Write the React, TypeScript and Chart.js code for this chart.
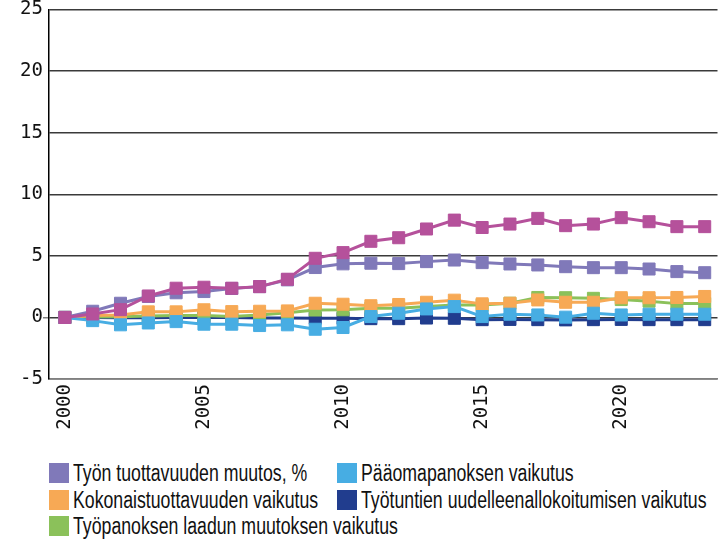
import React, { useEffect, useRef } from "react";
import { Chart, registerables } from "chart.js";

Chart.register(...registerables);

const years = [2000, 2001, 2002, 2003, 2004, 2005, 2006, 2007, 2008, 2009, 2010, 2011, 2012, 2013, 2014, 2015, 2016, 2017, 2018, 2019, 2020, 2021, 2022, 2023];

const xTicks = [2000, 2005, 2010, 2015, 2020];
const yTicks = [-5, 0, 5, 10, 15, 20, 25];

const legendLabels = [
  "Työn tuottavuuden muutos, %",
  "Pääomapanoksen vaikutus",
  "Kokonaistuottavuuden vaikutus",
  "Työtuntien uudelleenallokoitumisen vaikutus",
  "Työpanoksen laadun muutoksen vaikutus",
];

// magenta series (not shown in the legend)
const magentaSeries = [0, 0.28, 0.63, 1.74, 2.37, 2.45, 2.37, 2.5, 3.1, 4.8, 5.26, 6.18, 6.47, 7.18, 7.9, 7.3, 7.58, 8.04, 7.45, 7.58, 8.1, 7.77, 7.37, 7.37];
const tyonTuottavuus = [0, 0.5, 1.15, 1.7, 2.0, 2.1, 2.35, 2.5, 3.05, 4.05, 4.35, 4.4, 4.37, 4.53, 4.66, 4.45, 4.34, 4.26, 4.12, 4.04, 4.04, 3.93, 3.72, 3.63];
const paaomapanos = [0, -0.26, -0.6, -0.45, -0.34, -0.55, -0.55, -0.66, -0.6, -0.96, -0.82, 0.07, 0.34, 0.69, 0.88, 0.07, 0.26, 0.2, 0.02, 0.34, 0.2, 0.26, 0.26, 0.26];
const kokonaistuottavuus = [0, 0.15, 0.2, 0.45, 0.45, 0.62, 0.47, 0.5, 0.53, 1.15, 1.07, 0.95, 1.05, 1.23, 1.4, 1.1, 1.15, 1.42, 1.23, 1.23, 1.6, 1.6, 1.62, 1.7];
const tyopanoksenLaatu = [0, 0.03, 0.05, 0.12, 0.15, 0.15, 0.08, 0.2, 0.38, 0.6, 0.62, 0.74, 0.74, 0.88, 1.0, 1.0, 1.15, 1.62, 1.6, 1.55, 1.45, 1.32, 1.12, 1.12];
const tyotunnit = [0, 0, -0.02, -0.02, 0, 0, 0, -0.05, -0.05, -0.07, -0.07, -0.1, -0.1, -0.05, -0.07, -0.18, -0.16, -0.18, -0.2, -0.18, -0.16, -0.18, -0.18, -0.18];

const COLORS = {
  magenta: "#B5519B",
  purple: "#8079B9",
  orange: "#F7A955",
  lightBlue: "#47ADE3",
  darkBlue: "#213D8E",
  green: "#8BC15A",
};

const legendColors = [COLORS.purple, COLORS.lightBlue, COLORS.orange, COLORS.darkBlue, COLORS.green];

const toPoints = (vals: number[]) => vals.map((v, i) => ({ x: years[i], y: v }));

const ds = (label: string, vals: number[], color: string) => ({
  label,
  data: toPoints(vals),
  borderColor: color,
  backgroundColor: color,
  borderWidth: 3,
  pointStyle: "rect" as const,
  pointRadius: 8.5,
  pointBorderWidth: 1,
  pointBorderColor: color,
  pointBackgroundColor: color,
  tension: 0,
});

const tickFont = { family: "'DejaVu Sans Mono', monospace", size: 19, lineHeight: 1 };

export default function App() {
  const canvasRef = useRef<HTMLCanvasElement | null>(null);

  useEffect(() => {
    if (!canvasRef.current) return;
    const chart = new Chart(canvasRef.current, {
      type: "line",
      data: {
        datasets: [
          ds("", magentaSeries, COLORS.magenta),
          ds(legendLabels[0], tyonTuottavuus, COLORS.purple),
          ds(legendLabels[1], paaomapanos, COLORS.lightBlue),
          ds(legendLabels[2], kokonaistuottavuus, COLORS.orange),
          ds(legendLabels[4], tyopanoksenLaatu, COLORS.green),
          ds(legendLabels[3], tyotunnit, COLORS.darkBlue),
        ],
      },
      options: {
        animation: false,
        responsive: false,
        maintainAspectRatio: false,
        layout: { padding: { top: 9, right: 1, left: 0, bottom: 0 } },
        plugins: { legend: { display: false }, tooltip: { enabled: false } },
        scales: {
          x: {
            type: "linear",
            min: 1999.43,
            max: 2023.46,
            afterBuildTicks: (scale: any) => {
              scale.ticks = xTicks.map((v) => ({ value: v }));
            },
            afterFit: (scale: any) => {
              scale.height = 60;
            },
            grid: { display: false, drawTicks: false },
            border: { display: true, color: "#808080", width: 1.5 },
            ticks: {
              autoSkip: false,
              minRotation: 90,
              maxRotation: 90,
              padding: 5,
              color: "#111",
              font: tickFont,
              callback: (v: any) => String(v),
            },
          },
          y: {
            min: -5,
            max: 25,
            afterBuildTicks: (scale: any) => {
              scale.ticks = yTicks.map((v) => ({ value: v }));
            },
            afterFit: (scale: any) => {
              scale.width = 49;
            },
            grid: {
              color: "#3a3a3a",
              lineWidth: 1.5,
              drawTicks: true,
              tickLength: 6,
              tickColor: (ctx: any) => (ctx.tick && ctx.tick.value === 0 ? "#808080" : "rgba(0,0,0,0)"),
            },
            border: { display: true, color: "#000", width: 1.5 },
            ticks: {
              padding: 0,
              color: "#111",
              font: tickFont,
              callback: (v: any) => String(v),
            },
          },
        },
      },
    } as any);
    return () => chart.destroy();
  }, []);

  const legendOrder = [0, 1, 2, 3, 4];

  return (
    <div style={{ position: "fixed", left: 0, top: 0, width: 727, height: 539, background: "#fff", overflow: "hidden" }}>
      <canvas ref={canvasRef} width={727} height={439} style={{ display: "block", width: 727, height: 439 }} />
      <div
        style={{
          position: "absolute",
          left: 49,
          top: 463,
          display: "grid",
          gridTemplateColumns: "288px 340px",
          rowGap: 6.7,
          fontFamily: "'Liberation Sans', Arial, sans-serif",
          fontSize: 23,
          lineHeight: "20px",
          color: "#111",
        }}
      >
        {legendOrder.map((i) => (
          <div key={i} style={{ display: "flex", alignItems: "center", height: 20, whiteSpace: "nowrap", overflow: "visible" }}>
            <span style={{ display: "inline-block", flexShrink: 0, width: 20, height: 20, background: legendColors[i], marginRight: 4 }} />
            <span style={{ display: "inline-block", flexShrink: 0, transform: "scaleX(0.77)", transformOrigin: "left center" }}>
              {legendLabels[i]}
            </span>
          </div>
        ))}
      </div>
    </div>
  );
}
